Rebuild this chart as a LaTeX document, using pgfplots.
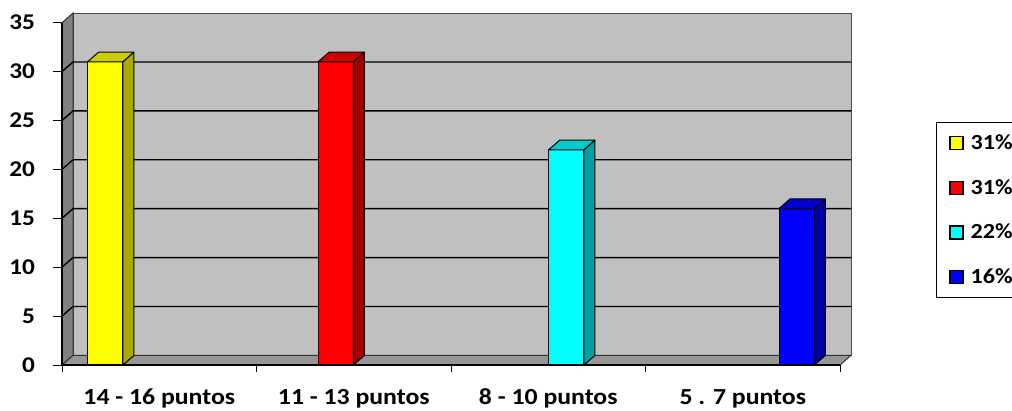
\documentclass[border=0pt]{standalone}
\usepackage{fontspec}
\setmainfont{Carlito}[FakeStretch=1.12]
\usepackage{pgfplots}
\pgfplotsset{compat=1.18}

\definecolor{wallback}{RGB}{192,192,192}
\definecolor{wallside}{RGB}{128,128,128}
\definecolor{wallfloor}{RGB}{150,150,150}
\definecolor{yfront}{RGB}{255,255,0}
\definecolor{ytop}{RGB}{204,204,0}
\definecolor{yside}{RGB}{170,170,0}
\definecolor{rfront}{RGB}{255,0,0}
\definecolor{rtop}{RGB}{204,0,0}
\definecolor{rside}{RGB}{160,0,0}
\definecolor{cfront}{RGB}{0,255,255}
\definecolor{ctop}{RGB}{0,204,204}
\definecolor{cside}{RGB}{0,160,160}
\definecolor{bfront}{RGB}{0,0,255}
\definecolor{btop}{RGB}{0,0,204}
\definecolor{bside}{RGB}{0,0,160}

\newlength\bwh \setlength\bwh{17.7pt}
\newlength\bdx \setlength\bdx{11pt}
\newlength\bdy \setlength\bdy{9.6pt}
\def\yu{9.78}

\newcommand{\barthreed}[2]{%
  \pgfmathsetlengthmacro{\barH}{\rawy*\yu}%
  \begin{tikzpicture}[line width=1pt, line join=round]
    \path[use as bounding box, fill=none, draw=none] (-\bwh-\bdx,0pt) rectangle (\bwh+\bdx,\bdy);
    \filldraw[fill=#1,draw=black] (-\bwh,0pt) -- (\bwh,0pt) -- (\bwh+\bdx,\bdy) -- (-\bwh+\bdx,\bdy) -- cycle;
    \filldraw[fill=#2,draw=black] (\bwh,0pt) -- (\bwh+\bdx,\bdy) -- (\bwh+\bdx,\bdy-\barH) -- (\bwh,-\barH) -- cycle;
  \end{tikzpicture}}

\begin{document}
\begin{tikzpicture}
\useasboundingbox (0,0) rectangle (1012pt,410pt);
\begin{axis}[
  at={(62pt,45pt)}, anchor=south west,
  scale only axis, width=778pt, height=342.3pt,
  xmin=-0.5, xmax=3.5, ymin=0, ymax=35,
  clip=false, axis on top,
  axis x line*=bottom, axis y line*=left,
  axis line style={black, line width=1.2pt},
  ytick={0,5,10,15,20,25,30,35},
  yticklabels={0,5,10,15,20,25,30,35},
  xtick={0,1,2,3},
  xticklabels={14 - 16 puntos, 11 - 13 puntos, 8 - 10 puntos, 5 . 7 puntos},
  minor xtick={-0.5,0.5,1.5,2.5,3.5},
  tick align=outside,
  major tick length=9pt, minor tick length=7pt,
  tick style={black, line width=1pt},
  major x tick style={draw=none},
  /pgf/number format/assume math mode=true,
  yticklabel style={inner sep=0pt, xshift=-18pt, font=\fontsize{22.5}{26}\selectfont\bfseries},
  xticklabel style={inner sep=0pt, anchor=base, yshift=-30pt, font=\fontsize{23}{27}\selectfont\bfseries},
  ybar, bar width=35.4pt,
  legend style={at={(axis description cs:1.12339,0.7099)}, anchor=north west,
    draw=black, line width=1pt, fill=white,
    inner xsep=13pt, inner ysep=12pt, row sep=27.7pt, column sep=7pt,
    font=\fontsize{21.5}{25}\selectfont\bfseries,
    nodes={inner sep=0pt, text height=15pt, text depth=2pt}},
  legend cell align=left,
]
% back wall, side wall, floor
\filldraw[fill=wallback, draw=black!70, line width=1pt] ([shift={(\bdx,\bdy)}]axis cs:-0.5,0) rectangle ([shift={(\bdx,\bdy)}]axis cs:3.5,35);
\filldraw[fill=wallside, draw=black!80, line width=1pt] (axis cs:-0.5,0) -- (axis cs:-0.5,35) -- ([shift={(\bdx,\bdy)}]axis cs:-0.5,35) -- ([shift={(\bdx,\bdy)}]axis cs:-0.5,0) -- cycle;
\filldraw[fill=wallfloor, draw=black!80, line width=1pt] (axis cs:-0.5,0) -- ([shift={(\bdx,\bdy)}]axis cs:-0.5,0) -- ([shift={(\bdx,\bdy)}]axis cs:3.5,0) -- (axis cs:3.5,0) -- cycle;
\pgfplotsinvokeforeach{5,10,15,20,25,30}{
  \draw[black, line width=1.4pt] (axis cs:-0.5,#1) -- ([shift={(\bdx,\bdy)}]axis cs:-0.5,#1) -- ([shift={(\bdx,\bdy)}]axis cs:3.5,#1);
}

\addplot[fill=yfront, draw=black, line width=1pt, bar shift=-54pt, forget plot,
  visualization depends on={rawy \as \rawy},
  nodes near coords={\barthreed{ytop}{yside}},
  every node near coord/.append style={anchor=south, inner sep=0pt, outer sep=0pt}]
  coordinates {(0,31)};
\addplot[fill=rfront, draw=black, line width=1pt, bar shift=-18pt, forget plot,
  visualization depends on={rawy \as \rawy},
  nodes near coords={\barthreed{rtop}{rside}},
  every node near coord/.append style={anchor=south, inner sep=0pt, outer sep=0pt}]
  coordinates {(1,31)};
\addplot[fill=cfront, draw=black, line width=1pt, bar shift=18pt, forget plot,
  visualization depends on={rawy \as \rawy},
  nodes near coords={\barthreed{ctop}{cside}},
  every node near coord/.append style={anchor=south, inner sep=0pt, outer sep=0pt}]
  coordinates {(2,22)};
\addplot[fill=bfront, draw=black, line width=1pt, bar shift=54pt, forget plot,
  visualization depends on={rawy \as \rawy},
  nodes near coords={\barthreed{btop}{bside}},
  every node near coord/.append style={anchor=south, inner sep=0pt, outer sep=0pt}]
  coordinates {(3,16)};

\addlegendimage{legend image code/.code={\draw[line width=1.2pt,draw=black,fill=yfront] (0pt,-6.5pt) rectangle (13pt,6.5pt);}}
\addlegendentry{31\%}
\addlegendimage{legend image code/.code={\draw[line width=1.2pt,draw=black,fill=rfront] (0pt,-6.5pt) rectangle (13pt,6.5pt);}}
\addlegendentry{31\%}
\addlegendimage{legend image code/.code={\draw[line width=1.2pt,draw=black,fill=cfront] (0pt,-6.5pt) rectangle (13pt,6.5pt);}}
\addlegendentry{22\%}
\addlegendimage{legend image code/.code={\draw[line width=1.2pt,draw=black,fill=bfront] (0pt,-6.5pt) rectangle (13pt,6.5pt);}}
\addlegendentry{16\%}
\end{axis}
\end{tikzpicture}
\end{document}
